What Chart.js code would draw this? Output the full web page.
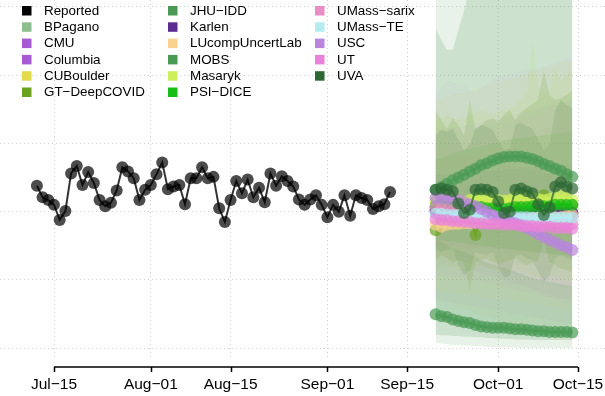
<!DOCTYPE html>
<html><head><meta charset="utf-8">
<script src="https://cdn.jsdelivr.net/npm/chart.js@4.4.0/dist/chart.umd.min.js"></script>
<style>html,body{margin:0;padding:0;background:#fff;}canvas{display:block;}</style>
</head><body>
<canvas id="c" width="605" height="396"></canvas>
<script>
// ---------- DATA ----------
const reportedStart = '2022-07-12';
const reported = [238,221,217,210,188,201,256,267,239,258,242,217,208,213,231,265,259,249,217,232,239,255,272,233,237,239,211,249,249,265,249,251,205,185,217,245,227,247,221,235,214,256,238,252,245,237,218,210,218,224,210,192,210,200,224,194,224,220,217,204,208,211,229];

const forecastStart = '2022-09-20';

const fcBPagano   = [206,205,205,204,204,204,203,203,203,203,203,202,202,202,202,202,201,201,201,201,201,200,200,200,200];
const fcCMU       = [203,203,202,202,202,201,201,201,201,200,200,200,200,200,199,199,199,199,199,199,198,198,198,198,198];
const fcColumbia  = [198,198,198,197,197,197,197,197,196,196,196,196,196,196,195,195,195,195,195,195,195,194,194,194,194];
const fcCUBoulder = [214,214,213,213,213,213,212,212,212,212,212,211,211,211,211,211,211,210,210,210,210,210,210,209,209];
const fcGT        = [173,198,200,197,198,197,195,166,197,200,198,197,195,198,200,198,197,200,203,224,205,203,204,207,210];
const fcJHU       = [232,236,241,246,250,254,259,263,268,271,275,278,280,281,281,281,279,277,274,270,267,263,260,255,251];
const fcKarlen    = [202,202,201,201,201,200,200,200,200,199,199,199,199,199,198,198,198,198,198,198,198,198,198,198,198];
const fcLUcomp    = [181,178,181,182,182,183,183,185,185,185,186,186,188,188,188,189,189,191,191,191,192,192,192,194,195];
const fcMOBS      = [50,47,46,42,40,38,37,34,32,31,30,30,30,29,28,28,27,26,25,25,24,24,24,24,23];
const fcMasaryk   = [216,217,219,217,216,214,217,220,221,220,219,217,216,217,221,223,221,220,219,217,219,221,223,220,217];
const fcPSI       = [208,210,208,207,207,205,205,207,207,205,205,204,204,205,207,207,207,208,208,208,208,210,210,210,210];
const fcSarix     = [207,205,204,202,201,199,198,197,197,195,194,192,192,191,189,189,188,186,186,185,185,183,183,182,182];
const fcUMassTE   = [197,197,195,195,195,194,194,194,194,194,192,192,192,192,192,192,192,191,191,191,191,191,191,191,191];
const fcUSC       = [220,220,219,219,217,214,211,208,204,200,195,192,189,186,183,180,176,172,167,163,159,155,151,148,144];
const fcUT        = [189,188,188,186,186,185,185,183,183,182,182,182,181,181,181,179,179,179,178,178,178,176,176,176,175];
const fcUVA       = [232,234,232,230,212,198,203,232,233,232,229,215,198,200,232,234,230,227,211,195,206,237,243,237,234];

const hiBPagano   = [560,560,560,560,560,560,560,560,560,560,560,560,560,560,560,560,560,560,560,560,560,560,560,560,560];
const loBPagano   = [8,7,6,5,5,4,4,3,3,2,2,2,1,1,1,0,0,0,0,0,0,0,0,0,0];
const hiCMU       = [371,381,393,390,385,387,378,374,381,387,393,397,400,403,405,406,408,408,410,413,416,419,422,425,429];
const loCMU       = [71,70,68,67,65,64,62,61,59,58,56,55,53,52,50,49,47,46,44,43,41,40,38,37,35];
const hiColumbia  = [320,321,322,323,324,325,327,329,331,333,335,337,339,341,343,345,347,349,351,353,355,357,359,361,364];
const loColumbia  = [107,106,105,104,103,102,101,100,98,96,94,92,90,88,86,84,82,80,78,76,75,74,73,72,71];
const hiCUBoulder = [364,366,368,371,373,375,378,380,382,385,387,390,392,395,397,400,402,405,407,410,412,415,417,420,422];
const loCUBoulder = [85,84,83,81,80,79,78,77,76,74,73,72,71,70,69,67,66,65,64,63,62,60,59,58,56];
const hiGT        = [349,334,322,337,327,312,364,320,327,334,337,331,342,349,334,346,352,358,364,407,371,364,366,371,378];
const loGT        = [129,137,132,126,129,126,85,126,129,132,126,123,126,129,132,126,122,126,129,159,126,122,117,114,111];
const hiJHU       = [469,451,437,437,466,495,525,554,554,554,554,554,554,554,554,554,554,554,554,554,554,554,554,554,554];
const loJHU       = [44,41,39,36,34,33,31,30,28,27,27,25,25,24,24,22,22,21,21,20,20,18,18,17,17];
const hiKarlen    = [254,255,255,256,257,257,258,259,259,260,261,261,262,263,263,264,265,265,266,266,267,267,268,268,268];
const loKarlen    = [151,150,150,149,148,148,147,146,146,145,144,144,143,142,142,141,140,140,139,139,138,138,137,137,137];
const hiLUcomp    = [276,278,280,282,283,285,287,289,291,293,294,296,298,300,302,304,305,307,309,311,313,314,316,318,320];
const loLUcomp    = [71,68,66,63,60,57,55,52,49,46,44,41,38,35,33,30,27,24,22,19,16,13,11,8,5];
const hiMOBS      = [159,156,151,147,144,141,137,134,129,126,123,121,118,115,112,109,106,103,100,99,97,96,94,93,91];
const loMOBS      = [20,19,19,18,18,17,17,16,16,15,15,14,14,14,13,13,13,12,12,12,12,12,12,12,12];
const hiMasaryk   = [334,337,342,337,334,337,342,346,349,346,342,346,349,352,356,364,380,451,385,371,378,410,393,400,407];
const loMasaryk   = [115,118,120,118,115,112,115,118,120,118,115,112,109,112,115,112,109,106,103,106,107,104,101,100,97];
const hiPSI       = [276,279,282,285,288,290,292,294,296,298,300,302,304,306,307,308,309,310,311,312,313,314,315,316,317];
const loPSI       = [159,158,157,156,155,154,152,151,150,149,148,147,146,145,144,143,142,141,140,139,138,137,136,135,134];
const hiSarix     = [290,293,296,299,302,305,308,311,314,317,320,322,325,328,331,334,337,340,343,346,349,352,355,358,361];
const loSarix     = [129,127,124,122,119,117,114,112,109,107,105,102,100,97,95,92,90,88,85,83,80,78,75,73,71];
const hiUMassTE   = [261,262,262,263,263,264,264,265,265,266,266,267,268,268,269,270,270,271,272,272,273,274,274,275,276];
const loUMassTE   = [137,136,135,134,133,132,131,130,130,129,128,127,126,125,124,123,122,121,120,120,119,118,117,116,115];
const hiUSC       = [290,289,288,287,286,285,283,281,279,277,275,273,271,269,267,265,263,261,259,257,255,253,251,249,247];
const loUSC       = [151,148,145,142,139,135,131,127,123,119,115,111,107,103,99,95,91,87,83,79,75,71,67,63,59];
const hiUT        = [276,278,281,283,286,288,290,293,295,298,300,302,305,307,310,312,314,317,319,322,324,326,329,331,334];
const loUT        = [137,135,133,131,129,127,124,122,120,118,116,114,112,110,107,105,103,101,99,97,95,92,90,88,86];
const hiUVA       = [312,320,317,322,305,290,298,322,327,324,320,305,290,293,327,331,325,322,305,290,298,349,364,356,352];
const loUVA       = [144,141,144,147,122,107,114,141,138,137,141,120,103,106,135,137,132,129,112,97,106,132,137,132,129];

const modelNames  = ['BPagano','CMU','Columbia','CUBoulder','GT\u2212DeepCOVID','JHU\u2212IDD','Karlen','LUcompUncertLab','MOBS','Masaryk','PSI\u2212DICE','UMass\u2212sarix','UMass\u2212TE','USC','UT','UVA'];
const modelColors = ['#8fbf8f','#a859d6','#a859d6','#e3da4c','#6ba321','#4a9a55','#5e2c91','#f6d28c','#4a9a55','#cdf05a','#16be16','#e98cc8','#b4ecf2','#b985de','#e983d8','#2c6834'];
const bandAlpha   = [0.2,0.05,0.05,0.08,0.2,0.2,0.04,0.08,0.2,0.14,0.16,0.05,0.08,0.05,0.05,0.2];
const modelPoints = [fcBPagano,fcCMU,fcColumbia,fcCUBoulder,fcGT,fcJHU,fcKarlen,fcLUcomp,fcMOBS,fcMasaryk,fcPSI,fcSarix,fcUMassTE,fcUSC,fcUT,fcUVA];
const modelHi     = [hiBPagano,hiCMU,hiColumbia,hiCUBoulder,hiGT,hiJHU,hiKarlen,hiLUcomp,hiMOBS,hiMasaryk,hiPSI,hiSarix,hiUMassTE,hiUSC,hiUT,hiUVA];
const modelLo     = [loBPagano,loCMU,loColumbia,loCUBoulder,loGT,loJHU,loKarlen,loLUcomp,loMOBS,loMasaryk,loPSI,loSarix,loUMassTE,loUSC,loUT,loUVA];

const tickDates  = ['2022-07-15','2022-08-01','2022-08-15','2022-09-01','2022-09-15','2022-10-01','2022-10-15'];
const tickLabels = ['Jul\u221215','Aug\u221201','Aug\u221215','Sep\u221201','Sep\u221215','Oct\u221201','Oct\u221215'];
const yGrid = [0,100,200,300,400,500];

// ---------- HELPERS ----------
const origin = Date.UTC(2022,6,15);
function dayNum(s){const p=s.split('-').map(Number);return (Date.UTC(p[0],p[1]-1,p[2])-origin)/864e5;}
function series(start, vals){const d0=dayNum(start);return vals.map((v,i)=>({x:d0+i,y:v}));}
function rgba(hex,a){const n=parseInt(hex.slice(1),16);return `rgba(${n>>16},${(n>>8)&255},${n&255},${a})`;}
const tickDays = tickDates.map(dayNum);

// ---------- DATASETS ----------
const datasets = [];
datasets.push({label:'Reported',data:series(reportedStart,reported),borderColor:'rgba(0,0,0,0.8)',borderWidth:2,
  pointRadius:6,pointBackgroundColor:'rgba(0,0,0,0.7)',pointBorderWidth:0,fill:false,order:0});
modelNames.forEach((n,i)=>{
  datasets.push({label:n,data:series(forecastStart,modelPoints[i]),borderColor:rgba(modelColors[i],0.75),borderWidth:2,
    pointRadius:6,pointBackgroundColor:rgba(modelColors[i],0.7),pointBorderWidth:0,fill:false,order:20-i});
});
modelNames.forEach((n,i)=>{
  datasets.push({label:n+' hi',data:series(forecastStart,modelHi[i]),borderWidth:0,pointRadius:0,
    fill:'+1',backgroundColor:rgba(modelColors[i],bandAlpha[i]),order:100});
  datasets.push({label:n+' lo',data:series(forecastStart,modelLo[i]),borderWidth:0,pointRadius:0,fill:false,order:100});
});

// ---------- PLUGINS ----------
const legendNames  = ['Reported'].concat(modelNames);
const legendColors = ['#000000'].concat(modelColors);
const legendPlugin = {id:'rlegend',afterDatasetsDraw(chart){
  const ctx=chart.ctx;ctx.save();
  ctx.font='13.4px "Liberation Sans", Arial, sans-serif';ctx.textBaseline='middle';ctx.fillStyle='#000';
  const colX=[22,168,315];
  legendNames.forEach((n,i)=>{
    const c=Math.floor(i/6), r=i%6;const x=colX[c], y=10.7+r*16.3;
    ctx.fillStyle=legendColors[i];ctx.fillRect(x,y-4.7,9.5,9.5);
    ctx.fillStyle='#000';ctx.fillText(n,x+22,y+0.5);
  });
  ctx.restore();
}};
const axisPlugin = {id:'raxis',afterDraw(chart){
  const ctx=chart.ctx, xs=chart.scales.x;ctx.save();
  ctx.strokeStyle='#000';ctx.lineWidth=1.5;
  const x0=xs.getPixelForValue(tickDays[0]), x1=xs.getPixelForValue(tickDays[tickDays.length-1]);
  const ya=367;
  ctx.beginPath();ctx.moveTo(x0,ya);ctx.lineTo(x1,ya);
  tickDays.forEach(d=>{const x=Math.round(xs.getPixelForValue(d))+0.5;ctx.moveTo(x,ya);ctx.lineTo(x,ya+5);});
  ctx.stroke();ctx.restore();
}};

new Chart(document.getElementById('c'),{
  type:'line',
  data:{datasets},
  options:{
    responsive:false,animation:false,devicePixelRatio:1,
    layout:{padding:0,autoPadding:false},
    plugins:{legend:{display:false},tooltip:{enabled:false}},
    scales:{
      x:{type:'linear',min:-9.481,max:96.74,
        afterBuildTicks:s=>{s.ticks=tickDays.map(v=>({value:v}));},
        afterFit:s=>{s.height=39;s.paddingLeft=0;s.paddingRight=0;},
        ticks:{autoSkip:false,maxRotation:0,padding:18,color:'#000',font:{family:'"Liberation Sans", Arial, sans-serif',size:15.5},
          callback:(v,i)=>tickLabels[i]},
        grid:{color:'#cfcfcf',lineWidth:1,drawTicks:false},
        border:{display:false,dash:[1,3]}},
      y:{type:'linear',min:-12.74,max:509.96,
        afterBuildTicks:s=>{s.ticks=yGrid.map(v=>({value:v}));},
        afterFit:s=>{s.width=0;},
        ticks:{display:false},
        grid:{color:'#cfcfcf',lineWidth:1,drawTicks:false},
        border:{display:false,dash:[1,3]}}
    }
  },
  plugins:[legendPlugin,axisPlugin]
});
</script>
</body></html>
